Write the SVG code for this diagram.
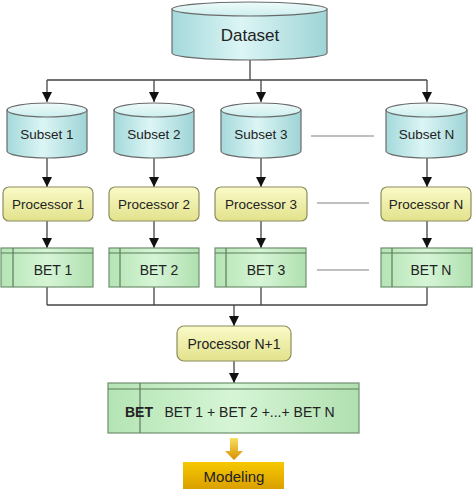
<svg xmlns="http://www.w3.org/2000/svg" width="474" height="491" viewBox="0 0 474 491">
<defs>
<linearGradient id="cylBody" x1="0" y1="0" x2="1" y2="0">
<stop offset="0" stop-color="#a4d9db"/><stop offset="0.45" stop-color="#dcf5f5"/><stop offset="1" stop-color="#9ed4d6"/>
</linearGradient>
<linearGradient id="cylTop" x1="0" y1="0" x2="0" y2="1">
<stop offset="0" stop-color="#eefbfb"/><stop offset="1" stop-color="#cdeeee"/>
</linearGradient>
<linearGradient id="proc" x1="0" y1="0" x2="0" y2="1">
<stop offset="0" stop-color="#fafac8"/><stop offset="1" stop-color="#e2e28c"/>
</linearGradient>
<linearGradient id="bet" x1="0" y1="0" x2="1" y2="0">
<stop offset="0" stop-color="#b4e4b4"/><stop offset="0.5" stop-color="#d6f5d6"/><stop offset="1" stop-color="#b0e0b0"/>
</linearGradient>
<linearGradient id="gold" x1="0" y1="0" x2="0" y2="1">
<stop offset="0" stop-color="#f6c800"/><stop offset="1" stop-color="#daa000"/>
</linearGradient>
<linearGradient id="garrow" x1="0" y1="0" x2="0" y2="1">
<stop offset="0" stop-color="#f8e060"/><stop offset="1" stop-color="#d89000"/>
</linearGradient>
<marker id="ah" markerWidth="10" markerHeight="10" viewBox="0 0 10 10" refX="10" refY="5" orient="auto" markerUnits="userSpaceOnUse">
<path d="M0,0 L10,5 L0,10 z" fill="#111"/>
</marker>
</defs>
<style>
.cb{fill:url(#cylBody);stroke:#6a6a6a;stroke-width:1.2}
.ct{fill:url(#cylTop);stroke:#6a6a6a;stroke-width:1.2}
.pr{fill:url(#proc);stroke:#8c8c60;stroke-width:1.2}
.bt{fill:url(#bet);stroke:#6f8f6f;stroke-width:1.2}
.bl{stroke:#5d7a5d;stroke-width:1.2;fill:none}
.t{font-family:"Liberation Sans",Arial,sans-serif;fill:#222;text-anchor:middle;dominant-baseline:central}
.c{stroke:#444;stroke-width:1.3;fill:none}
.g{stroke:#aaaaaa;stroke-width:1.5;fill:none}
</style>

<g id="connectors">
<path class="c" d="M250,60 V80 M47,80 H427"/>
<path class="c" d="M47,80 V102" marker-end="url(#ah)"/>
<path class="c" d="M154,80 V102" marker-end="url(#ah)"/>
<path class="c" d="M261,80 V102" marker-end="url(#ah)"/>
<path class="c" d="M427,80 V102" marker-end="url(#ah)"/>
<path class="c" d="M47,158 V187" marker-end="url(#ah)"/>
<path class="c" d="M154,158 V187" marker-end="url(#ah)"/>
<path class="c" d="M261,158 V187" marker-end="url(#ah)"/>
<path class="c" d="M427,158 V187" marker-end="url(#ah)"/>
<path class="c" d="M47,221 V248" marker-end="url(#ah)"/>
<path class="c" d="M154,221 V248" marker-end="url(#ah)"/>
<path class="c" d="M261,221 V248" marker-end="url(#ah)"/>
<path class="c" d="M427,221 V248" marker-end="url(#ah)"/>
<path class="c" d="M47,287 V305 M154,287 V305 M261,287 V305 M427,287 V305 M47,305 H427"/>
<path class="c" d="M234,305 V326" marker-end="url(#ah)"/>
<path class="c" d="M234,361 V383" marker-end="url(#ah)"/>
<path class="g" d="M311,136 H374 M317,203 H369 M317,270 H369"/>
<path d="M230,438 H238 V451 H243 L234,460 L225,451 H230 Z" fill="url(#garrow)"/>
</g>

<g id="dataset">
<path class="cb" d="M172,9 V53 A77.5,7 0 0 0 327,53 V9 Z"/>
<ellipse class="ct" cx="249.5" cy="9" rx="77.5" ry="7"/>
<text class="t" x="250" y="35" font-size="17">Dataset</text>
</g>

<g id="subset1">
<path class="cb" d="M7,110 V151 A40,7 0 0 0 87,151 V110 Z"/>
<ellipse class="ct" cx="47" cy="110" rx="40" ry="7"/>
<text class="t" x="47" y="134" font-size="13.5">Subset 1</text>
</g>
<g id="subset2">
<path class="cb" d="M114,110 V151 A40,7 0 0 0 194,151 V110 Z"/>
<ellipse class="ct" cx="154" cy="110" rx="40" ry="7"/>
<text class="t" x="154" y="134" font-size="13.5">Subset 2</text>
</g>
<g id="subset3">
<path class="cb" d="M221,110 V151 A40,7 0 0 0 301,151 V110 Z"/>
<ellipse class="ct" cx="261" cy="110" rx="40" ry="7"/>
<text class="t" x="261" y="134" font-size="13.5">Subset 3</text>
</g>
<g id="subsetN">
<path class="cb" d="M386,110 V151 A40.5,7 0 0 0 467,151 V110 Z"/>
<ellipse class="ct" cx="426.5" cy="110" rx="40.5" ry="7"/>
<text class="t" x="426.5" y="134" font-size="13.5">Subset N</text>
</g>

<g id="processor1">
<rect class="pr" x="3" y="187" width="90" height="34" rx="6"/>
<text class="t" x="48" y="204" font-size="13.5">Processor 1</text>
</g>
<g id="processor2">
<rect class="pr" x="109" y="187" width="90" height="34" rx="6"/>
<text class="t" x="154" y="204" font-size="13.5">Processor 2</text>
</g>
<g id="processor3">
<rect class="pr" x="215" y="187" width="92" height="34" rx="6"/>
<text class="t" x="261" y="204" font-size="13.5">Processor 3</text>
</g>
<g id="processorN">
<rect class="pr" x="381" y="187" width="90" height="34" rx="6"/>
<text class="t" x="426" y="204" font-size="13.5">Processor N</text>
</g>

<g id="bet1">
<rect class="bt" x="1" y="248" width="92" height="39"/>
<path class="bl" d="M1,253 H93 M13,248 V287"/>
<text class="t" x="53" y="270" font-size="14">BET 1</text>
</g>
<g id="bet2">
<rect class="bt" x="109" y="248" width="90" height="39"/>
<path class="bl" d="M109,253 H199 M120,248 V287"/>
<text class="t" x="159" y="270" font-size="14">BET 2</text>
</g>
<g id="bet3">
<rect class="bt" x="215" y="248" width="91" height="39"/>
<path class="bl" d="M215,253 H306 M226,248 V287"/>
<text class="t" x="266" y="270" font-size="14">BET 3</text>
</g>
<g id="betN">
<rect class="bt" x="381" y="248" width="91" height="39"/>
<path class="bl" d="M381,253 H472 M392,248 V287"/>
<text class="t" x="431" y="270" font-size="14">BET N</text>
</g>

<g id="processorN1">
<rect class="pr" x="177" y="326" width="114" height="35" rx="7"/>
<text class="t" x="234" y="344" font-size="14">Processor N+1</text>
</g>

<g id="betAll">
<rect class="bt" x="108" y="383" width="251" height="50"/>
<path class="bl" d="M108,389 H359 M140,383 V433"/>
<text class="t" x="139" y="412" font-size="14" font-weight="bold">BET</text>
<text class="t" x="249.5" y="412" font-size="14">BET 1 + BET 2 +...+ BET N</text>
</g>

<g id="modeling">
<rect x="183" y="462" width="101" height="27" fill="url(#gold)"/>
<text class="t" x="234" y="476" font-size="15">Modeling</text>
</g>
</svg>
